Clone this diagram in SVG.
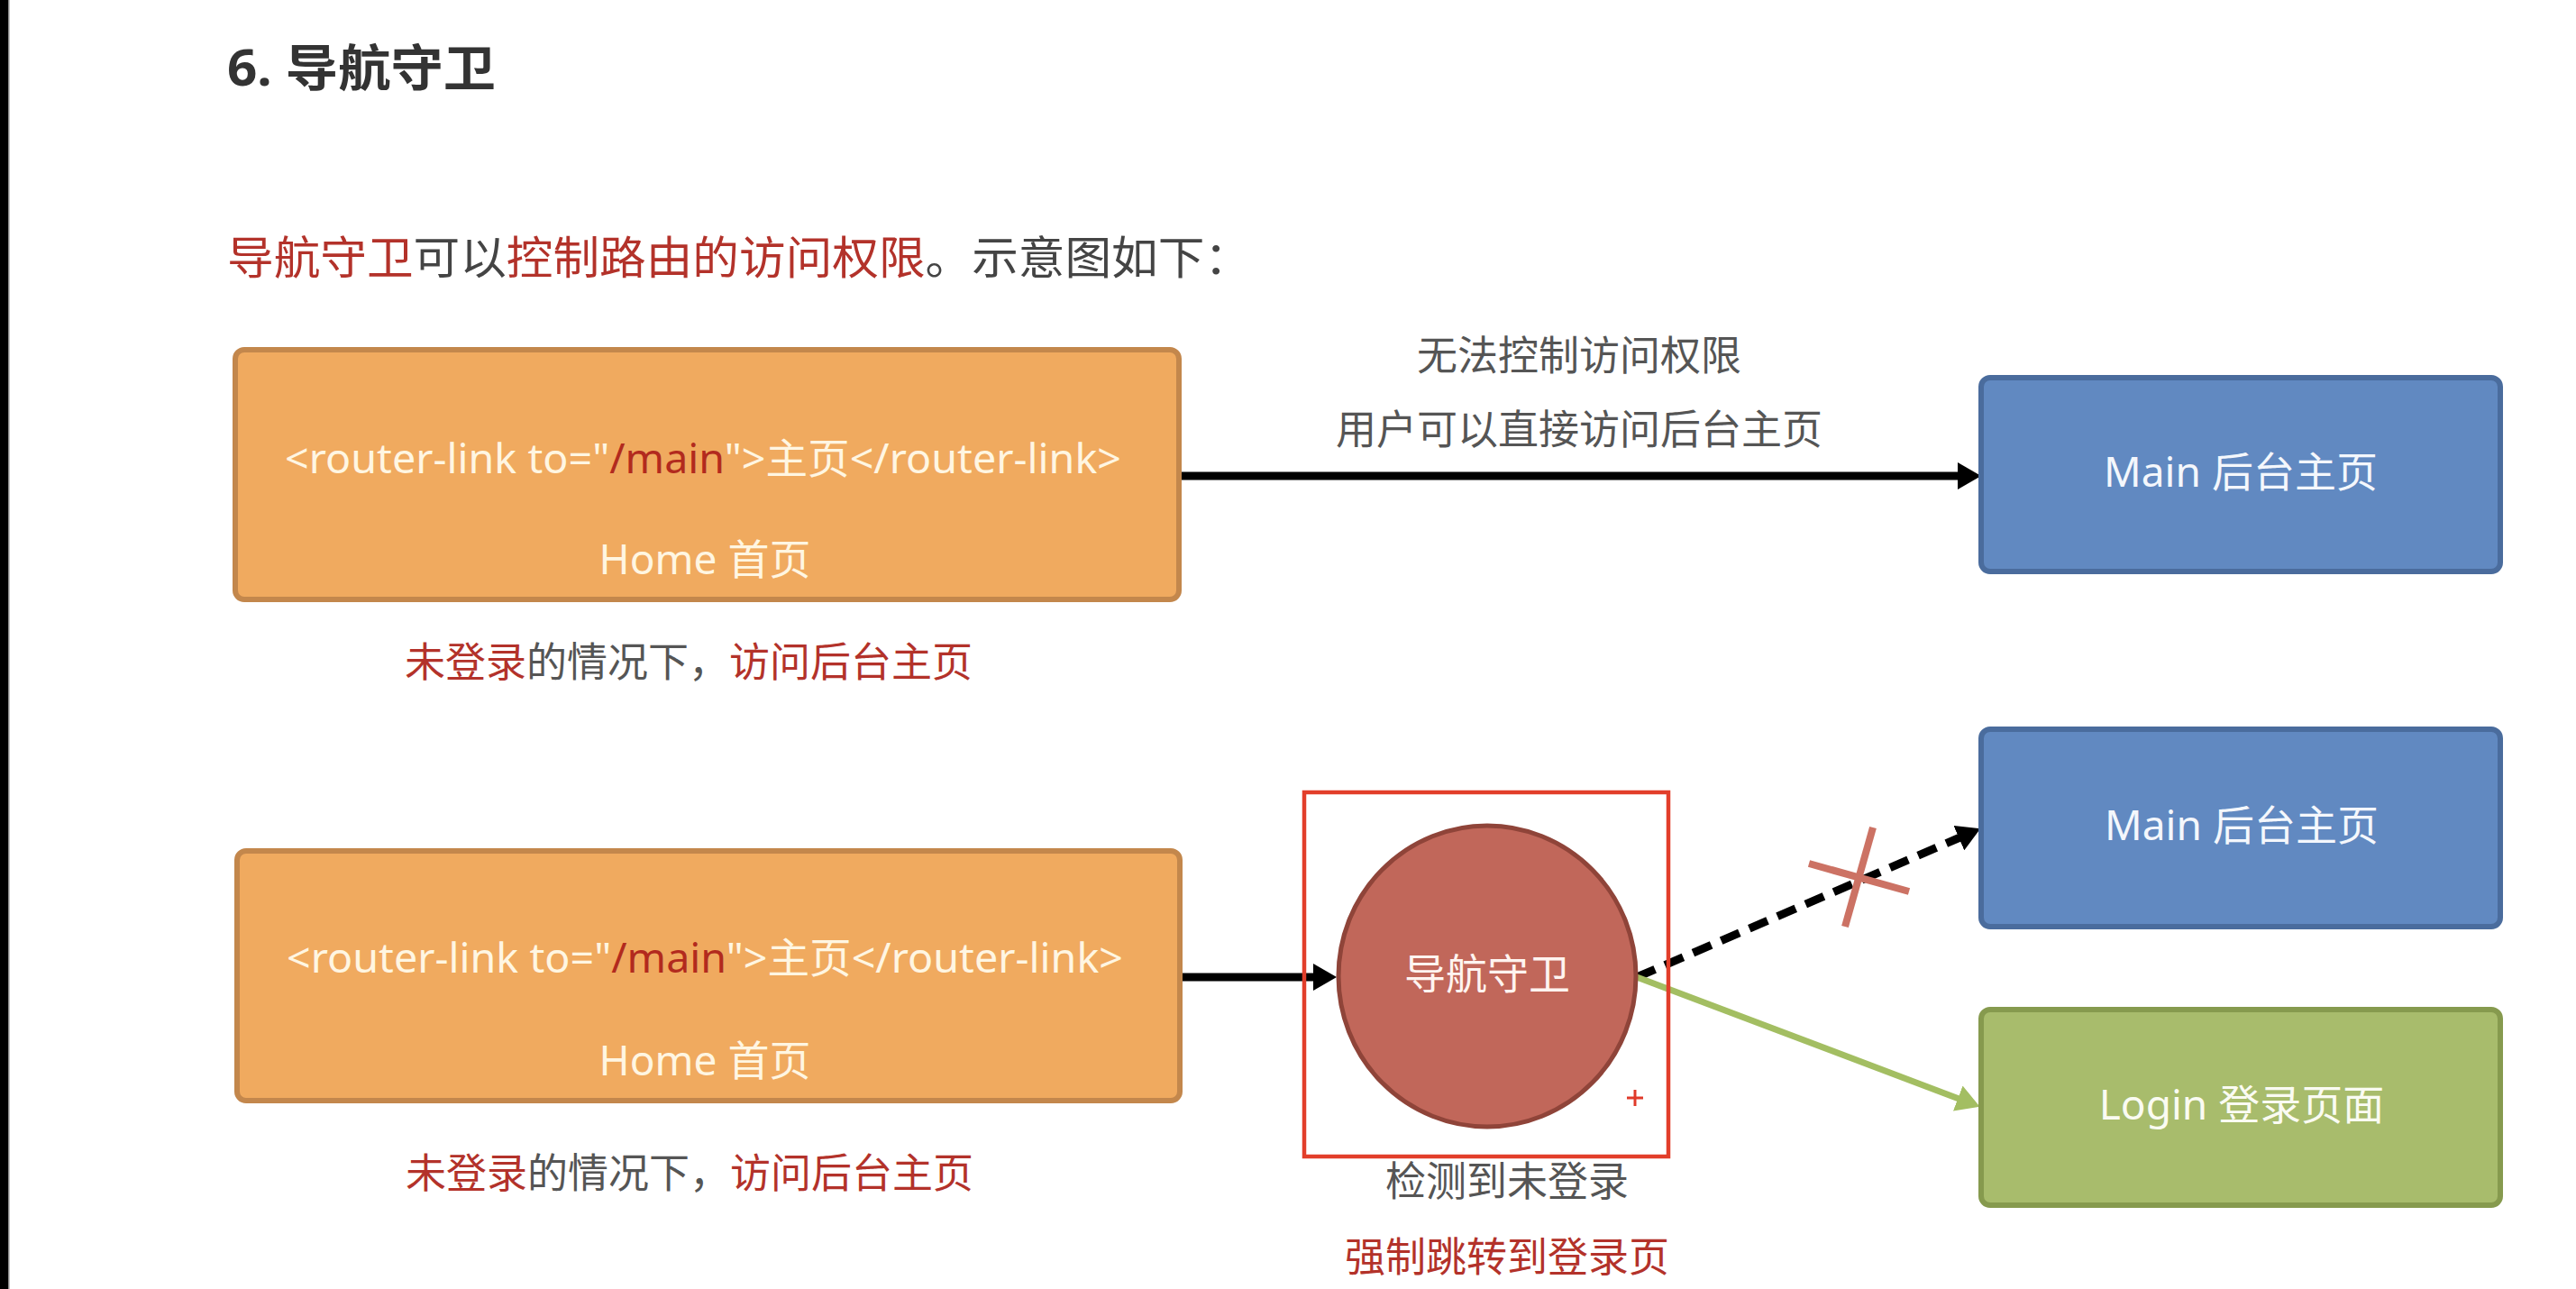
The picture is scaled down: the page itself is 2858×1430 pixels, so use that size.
<svg xmlns="http://www.w3.org/2000/svg" width="2858" height="1430" viewBox="0 0 2858 1430">
<style>
text { font-family: "Noto Sans", "Noto Sans CJK SC", sans-serif; }
.title { font-size: 55px; font-weight: bold; fill: #333333; }
.sub { font-size: 50px; fill: #444444; }
.lbl { font-size: 45px; fill: #555555; text-anchor: middle; }
.red { fill: #B3322A; }
.boxtxt { font-size: 46px; fill: #FFF6E2; text-anchor: middle; }
.orange { fill: #F0AA5F; stroke: #C3874C; stroke-width: 6; }
.blue { fill: #6189C1; stroke: #4A6C9D; stroke-width: 6; }
.green { fill: #A8BC6C; stroke: #869A4E; stroke-width: 6; }
.conn { fill: none; stroke: #000; stroke-width: 9; }
</style>
<defs>
<marker id="ahBlack" markerUnits="userSpaceOnUse" markerWidth="26" markerHeight="30" refX="4" refY="15" orient="auto">
<path d="M0,0 L26,15 L0,30 z" fill="#000"/>
</marker>
<marker id="ahGreen" markerUnits="userSpaceOnUse" markerWidth="26" markerHeight="30" refX="4" refY="15" orient="auto">
<path d="M0,0 L26,15 L0,30 z" fill="#A3BE62"/>
</marker>
</defs>
<rect x="0" y="0" width="2858" height="1430" fill="#FFFFFF"/>
<rect x="0" y="0" width="9" height="1430" fill="#000000"/>
<rect x="9" y="0" width="1.5" height="1430" fill="#8A8A8A"/>

<g id="heading">
<text class="title" x="252" y="95" textLength="298" lengthAdjust="spacingAndGlyphs">6. 导航守卫</text>
<text class="sub" x="252" y="304" textLength="1136" lengthAdjust="spacingAndGlyphs"><tspan class="red">导航守卫</tspan>可以<tspan class="red">控制路由的访问权限</tspan>。示意图如下：</text>
</g>

<g id="connectors">
<line class="conn" x1="1310" y1="528" x2="2176" y2="528" marker-end="url(#ahBlack)"/>
<line class="conn" x1="1311" y1="1084" x2="1461" y2="1084" marker-end="url(#ahBlack)"/>
<line class="conn" x1="1816" y1="1084" x2="2177" y2="928" stroke-width="10" stroke-dasharray="22 12" marker-end="url(#ahBlack)"/>
<line x1="1816" y1="1084" x2="2176" y2="1220" stroke="#A3BE62" stroke-width="7" marker-end="url(#ahGreen)"/>
<g id="cross" stroke="#CC7264" stroke-width="8">
<line x1="2007" y1="958" x2="2118" y2="989"/>
<line x1="2078" y1="918" x2="2047" y2="1028"/>
</g>
</g>

<g id="home1">
<rect class="orange" x="261" y="388" width="1047" height="277" rx="10"/>
<text class="boxtxt" x="780" y="525" textLength="928" lengthAdjust="spacingAndGlyphs">&lt;router-link to="<tspan fill="#B22A1E">/main</tspan>"&gt;主页&lt;/router-link&gt;</text>
<text class="boxtxt" x="782" y="637">Home 首页</text>
</g>
<g id="note1">
<text class="lbl" x="764" y="751" textLength="630" lengthAdjust="spacingAndGlyphs"><tspan class="red">未登录</tspan>的情况下，<tspan class="red">访问后台主页</tspan></text>
</g>

<g id="label1">
<text class="lbl" x="1752" y="411">无法控制访问权限</text>
<text class="lbl" x="1752" y="493">用户可以直接访问后台主页</text>
</g>

<g id="main1">
<rect class="blue" x="2198" y="419" width="576" height="215" rx="10"/>
<text class="boxtxt" x="2486" y="540" style="fill:#F4F7FC">Main 后台主页</text>
</g>

<g id="home2">
<rect class="orange" x="263" y="944" width="1046" height="277" rx="10"/>
<text class="boxtxt" x="782" y="1079" textLength="928" lengthAdjust="spacingAndGlyphs">&lt;router-link to="<tspan fill="#B22A1E">/main</tspan>"&gt;主页&lt;/router-link&gt;</text>
<text class="boxtxt" x="782" y="1193">Home 首页</text>
</g>
<g id="note2">
<text class="lbl" x="765" y="1318" textLength="630" lengthAdjust="spacingAndGlyphs"><tspan class="red">未登录</tspan>的情况下，<tspan class="red">访问后台主页</tspan></text>
</g>

<g id="guard">
<rect x="1447" y="879" width="404" height="404" fill="none" stroke="#E23E2A" stroke-width="4.5"/>
<ellipse cx="1650" cy="1083" rx="165" ry="167" fill="#C1675A" stroke="#8F4439" stroke-width="5"/>
<text class="boxtxt" x="1650" y="1097" style="fill:#FFF4F0">导航守卫</text>
<g stroke="#E03A2A" stroke-width="3">
<line x1="1805" y1="1218" x2="1823" y2="1218"/>
<line x1="1814" y1="1209" x2="1814" y2="1227"/>
</g>
<text class="lbl" x="1672" y="1327">检测到未登录</text>
<text class="lbl" x="1672" y="1411" style="fill:#B3322A">强制跳转到登录页</text>
</g>

<g id="main2">
<rect class="blue" x="2198" y="809" width="576" height="219" rx="10"/>
<text class="boxtxt" x="2487" y="932" style="fill:#F4F7FC">Main 后台主页</text>
</g>

<g id="login">
<rect class="green" x="2198" y="1120" width="576" height="217" rx="10"/>
<text class="boxtxt" x="2487" y="1242" style="fill:#FAFBF2">Login 登录页面</text>
</g>
</svg>
